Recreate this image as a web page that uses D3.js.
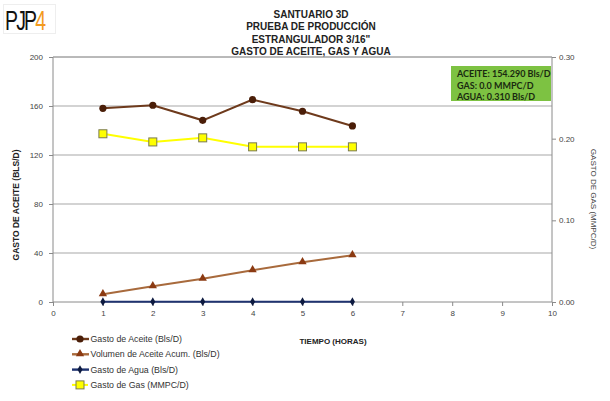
<!DOCTYPE html>
<html>
<head>
<meta charset="utf-8">
<script src="https://cdn.jsdelivr.net/npm/d3@7"></script>
<style>
body { margin: 0; background: #fff; }
svg { display: block; font-family: "Liberation Sans", Arial, sans-serif; }
</style>
</head>
<body>
<div id="chart"></div>
<script>
// chart values
let horas = [1, 2, 3, 4, 5, 6];
let gastoAceite = [158.1, 160.6, 148.3, 165.2, 155.7, 143.7];
let volAcum = [6.3, 12.8, 19.0, 25.9, 32.4, 38.1];
let gastoAgua = [0.3, 0.3, 0.3, 0.3, 0.3, 0.3];
let gastoGas = [0.206, 0.196, 0.201, 0.190, 0.190, 0.190];

let xTicks = [0, 1, 2, 3, 4, 5, 6, 7, 8, 9, 10];
let yLeftTicks = [0, 40, 80, 120, 160, 200];
let yRightTicks = [0, 0.10, 0.20, 0.30];

let titleLines = ["SANTUARIO 3D", "PRUEBA DE PRODUCCIÓN", "ESTRANGULADOR 3/16\"", "GASTO DE ACEITE, GAS Y AGUA"];
let boxLines = ["ACEITE: 154.290 Bls/D", "GAS: 0.0 MMPC/D", "AGUA: 0.310 Bls/D"];
let legendNames = ["Gasto de Aceite (Bls/D)", "Volumen de Aceite Acum. (Bls/D)", "Gasto de Agua (Bls/D)", " Gasto de Gas (MMPC/D)"];

let W = 610, H = 401;
let margin = {top: 57, left: 53, right: 58, bottom: 99};
let plotW = W - margin.left - margin.right, plotH = H - margin.top - margin.bottom;

let svg = d3.select("#chart").append("svg").attr("width", W).attr("height", H);

let x = d3.scaleLinear().domain([0, 10]).range([0, plotW]);
let yL = d3.scaleLinear().domain([0, 200]).range([plotH, 0]);
let yR = d3.scaleLinear().domain([0, 0.30]).range([plotH, 0]);

let g = svg.append("g").attr("transform", "translate(" + margin.left + "," + margin.top + ")");

// gridlines
g.selectAll(".grid").data(yLeftTicks.filter(function(d){ return d > 0; }))
  .enter().append("line")
  .attr("x1", 0).attr("x2", plotW)
  .attr("y1", function(d){ return yL(d); }).attr("y2", function(d){ return yL(d); })
  .attr("stroke", "#c4c4c4").attr("stroke-width", 1.4);

// left axis
let axL = g.append("g").call(d3.axisLeft(yL).tickValues(yLeftTicks).tickSize(4).tickPadding(6));
// right axis
let axR = g.append("g").attr("transform", "translate(" + plotW + ",0)")
  .call(d3.axisRight(yR).tickValues(yRightTicks).tickSize(4).tickPadding(3).tickFormat(d3.format(".2f")));
// bottom axis
let axB = g.append("g").attr("transform", "translate(0," + plotH + ")")
  .call(d3.axisBottom(x).tickValues(xTicks).tickSize(4).tickPadding(4));

[axL, axR, axB].forEach(function(a){
  a.selectAll("path, line").attr("stroke", "#8a8a8a").attr("stroke-width", 1);
  a.selectAll("text").attr("fill", "#444").attr("font-size", "8px");
});
axL.select(".domain").attr("d", "M0," + plotH + "V0");
axR.select(".domain").attr("d", "M0," + plotH + "V0");
axB.select(".domain").attr("d", "M0,0H" + plotW);

// top border
g.append("line").attr("x1", 0).attr("x2", plotW).attr("y1", 0).attr("y2", 0)
  .attr("stroke", "#a0a0a0").attr("stroke-width", 1);

// series
let series = [
  {vals: gastoAceite, y: yL, line: "#6e3a1c", mark: "#4a1e08", shape: "circle"},
  {vals: volAcum, y: yL, line: "#a86a3c", mark: "#8b3a12", shape: "triangle"},
  {vals: gastoAgua, y: yL, line: "#1f3370", mark: "#0d1a40", shape: "diamond"},
  {vals: gastoGas, y: yR, line: "#ffff00", mark: "#ffff00", shape: "square"}
];

function drawMarker(sel, s, px, py) {
  if (s.shape == "circle") {
    sel.append("circle").attr("cx", px).attr("cy", py).attr("r", 3.6).attr("fill", s.mark);
  } else if (s.shape == "triangle") {
    sel.append("path").attr("d", d3.symbol().type(d3.symbolTriangle).size(30)())
      .attr("transform", "translate(" + px + "," + (py - 0.5) + ")").attr("fill", s.mark);
  } else if (s.shape == "diamond") {
    sel.append("path").attr("d", d3.symbol().type(d3.symbolDiamond).size(22)())
      .attr("transform", "translate(" + px + "," + py + ")").attr("fill", s.mark);
  } else {
    sel.append("rect").attr("x", px - 4).attr("y", py - 4).attr("width", 8).attr("height", 8)
      .attr("fill", s.mark).attr("stroke", "#7a7a50").attr("stroke-width", 1);
  }
}

series.forEach(function(s){
  let line = d3.line().x(function(d, i){ return x(horas[i]); }).y(function(d){ return s.y(d); });
  g.append("path").datum(s.vals).attr("d", line).attr("fill", "none")
    .attr("stroke", s.line).attr("stroke-width", 2);
  s.vals.forEach(function(v, i){ drawMarker(g, s, x(horas[i]), s.y(v)); });
});

// green box
let bx = 451, by = 66;
svg.append("rect").attr("x", bx).attr("y", by).attr("width", 100).attr("height", 35)
  .attr("fill", "#7dc242");
svg.selectAll(".boxtxt").data(boxLines).enter().append("text")
  .attr("x", bx + 6).attr("y", function(d, i){ return by + 11 + i * 11.5; })
  .attr("font-family", "Lato, 'Open Sans', sans-serif").attr("font-size", "9px").attr("font-weight", "bold")
  .attr("fill", "#1a2a10").text(function(d){ return d; });

// title
svg.selectAll(".title").data(titleLines).enter().append("text")
  .attr("x", 311).attr("y", function(d, i){ return 18 + i * 12.3; })
  .attr("text-anchor", "middle").attr("font-family", "'Liberation Sans Narrow', 'Arial Narrow', sans-serif")
  .attr("font-size", "10px").attr("font-weight", "bold").attr("fill", "#222")
  .text(function(d){ return d; });

// axis titles
svg.append("text").attr("transform", "translate(19,205) rotate(-90)")
  .attr("text-anchor", "middle").attr("font-size", "8.5px").attr("font-weight", "bold").attr("fill", "#222")
  .text("GASTO DE ACEITE (BLS/D)");
svg.append("text").attr("transform", "translate(591,199) rotate(90)")
  .attr("text-anchor", "middle").attr("font-size", "8px").attr("fill", "#444")
  .text("GASTO DE GAS (MMPC/D)");
svg.append("text").attr("x", 333).attr("y", 344).attr("text-anchor", "middle")
  .attr("font-size", "8px").attr("font-weight", "bold").attr("fill", "#222")
  .text("TIEMPO (HORAS)");

// legend
let leg = svg.selectAll(".leg").data(series).enter().append("g")
  .attr("transform", function(d, i){ return "translate(72," + (339 + i * 15.3) + ")"; });
leg.each(function(s, i){
  let el = d3.select(this);
  if (i == 3) {
    el.append("line").attr("x1", 0).attr("x2", 4).attr("stroke", s.line).attr("stroke-width", 2);
    el.append("line").attr("x1", 12).attr("x2", 16).attr("stroke", s.line).attr("stroke-width", 2);
  } else {
    el.append("line").attr("x1", 0).attr("x2", 17).attr("stroke", s.line).attr("stroke-width", 2.4);
  }
  drawMarker(el, s, 8, 0);
  el.append("text").attr("x", 18.5).attr("y", 3).attr("font-size", "8.8px").attr("fill", "#333")
    .text(legendNames[i]);
});

// logo
let logo = svg.append("g");
logo.append("rect").attr("x", 3.5).attr("y", 4.5).attr("width", 52).attr("height", 29)
  .attr("fill", "#fff").attr("stroke", "#eee");
let lt = logo.append("text").attr("transform", "translate(5,30) scale(0.72,1)").attr("font-size", "27px")
  .attr("font-family", "'Liberation Sans Narrow', 'Liberation Sans', sans-serif").attr("letter-spacing", "-2.5px");
lt.append("tspan").attr("fill", "#111").text("PJP");
lt.append("tspan").attr("fill", "#f39a1e").text("4");
</script>
</body>
</html>
